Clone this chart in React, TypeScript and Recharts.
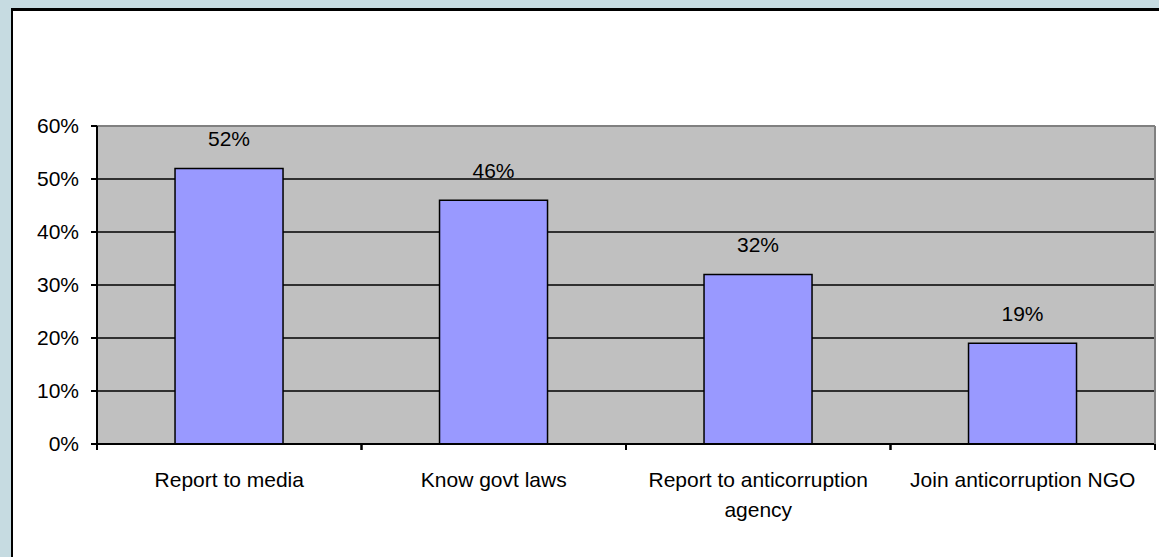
import React from "react";
import { BarChart, Bar, XAxis, YAxis, CartesianGrid, LabelList, ReferenceLine } from "recharts";

const categories = [
  "Report to media",
  "Know govt laws",
  "Report to anticorruption\nagency",
  "Join anticorruption NGO",
];
const values = [0.52, 0.46, 0.32, 0.19];
const yTicks = [0, 0.1, 0.2, 0.3, 0.4, 0.5, 0.6];

const data = categories.map((c, i) => ({ name: c, value: values[i] }));

const FONT = "'Liberation Sans', Arial, sans-serif";
const pct = (v: number) => `${Math.round(v * 100)}%`;

function XTick(props: any) {
  const { x, y, payload } = props;
  const off = payload && payload.offset != null ? payload.offset : 132.5;
  const lines = String(payload.value).split("\n");
  return (
    <g>
      <line x1={x - off} x2={x - off} y1={y} y2={y + 6} stroke="#000" strokeWidth={2} />
      <line x1={x + off} x2={x + off} y1={y} y2={y + 6} stroke="#000" strokeWidth={2} />
      {lines.map((l, i) => (
        <text key={i} x={x} y={y + 43 + i * 30} textAnchor="middle" fontSize={21} fontFamily={FONT} fill="#000">
          {l}
        </text>
      ))}
    </g>
  );
}

export default function App() {
  return (
    <div style={{ position: "absolute", left: 0, top: 0, width: 1159, height: 557, background: "#C6DBE1", overflow: "hidden" }}>
      <div
        style={{
          position: "absolute",
          left: 11,
          top: 8,
          width: 1200,
          height: 600,
          background: "#fff",
          borderLeft: "2px solid #000",
          borderTop: "3px solid #000",
        }}
      />
      <div style={{ position: "absolute", left: 0, top: 0 }}>
        <BarChart
          width={1159}
          height={557}
          data={data}
          margin={{ top: 126, right: 2, left: 37, bottom: 53 }}
          barCategoryGap="29.5%"
        >
          <CartesianGrid vertical={false} fill="#C0C0C0" stroke="#000" strokeWidth={1.5} horizontalValues={yTicks} />
          <ReferenceLine y={0.6} stroke="#808080" strokeWidth={2} />
          <XAxis
            dataKey="name"
            height={60}
            interval={0}
            tickSize={0}
            tickMargin={0}
            tickLine={false}
            axisLine={{ stroke: "#000", strokeWidth: 2 }}
            tick={<XTick />}
          />
          <YAxis
            width={60}
            domain={[0, 0.6]}
            ticks={yTicks}
            tickFormatter={pct}
            tickSize={6}
            tickMargin={12}
            axisLine={{ stroke: "#000", strokeWidth: 2 }}
            tickLine={{ stroke: "#000", strokeWidth: 2 }}
            tick={{ fill: "#000", fontSize: 21, fontFamily: FONT }}
            interval={0}
          />
          <YAxis
            yAxisId="r"
            orientation="right"
            width={2}
            domain={[0, 0.6]}
            tick={false}
            tickLine={false}
            axisLine={{ stroke: "#808080", strokeWidth: 2 }}
          />
          <Bar dataKey="value" fill="#9999FF" stroke="#000" strokeWidth={1.5} isAnimationActive={false}>
            <LabelList
              dataKey="value"
              position="top"
              offset={22}
              formatter={(v: any) => pct(Number(v))}
              style={{ fill: "#000", fontSize: 21, fontFamily: FONT }}
            />
          </Bar>
        </BarChart>
      </div>
    </div>
  );
}
